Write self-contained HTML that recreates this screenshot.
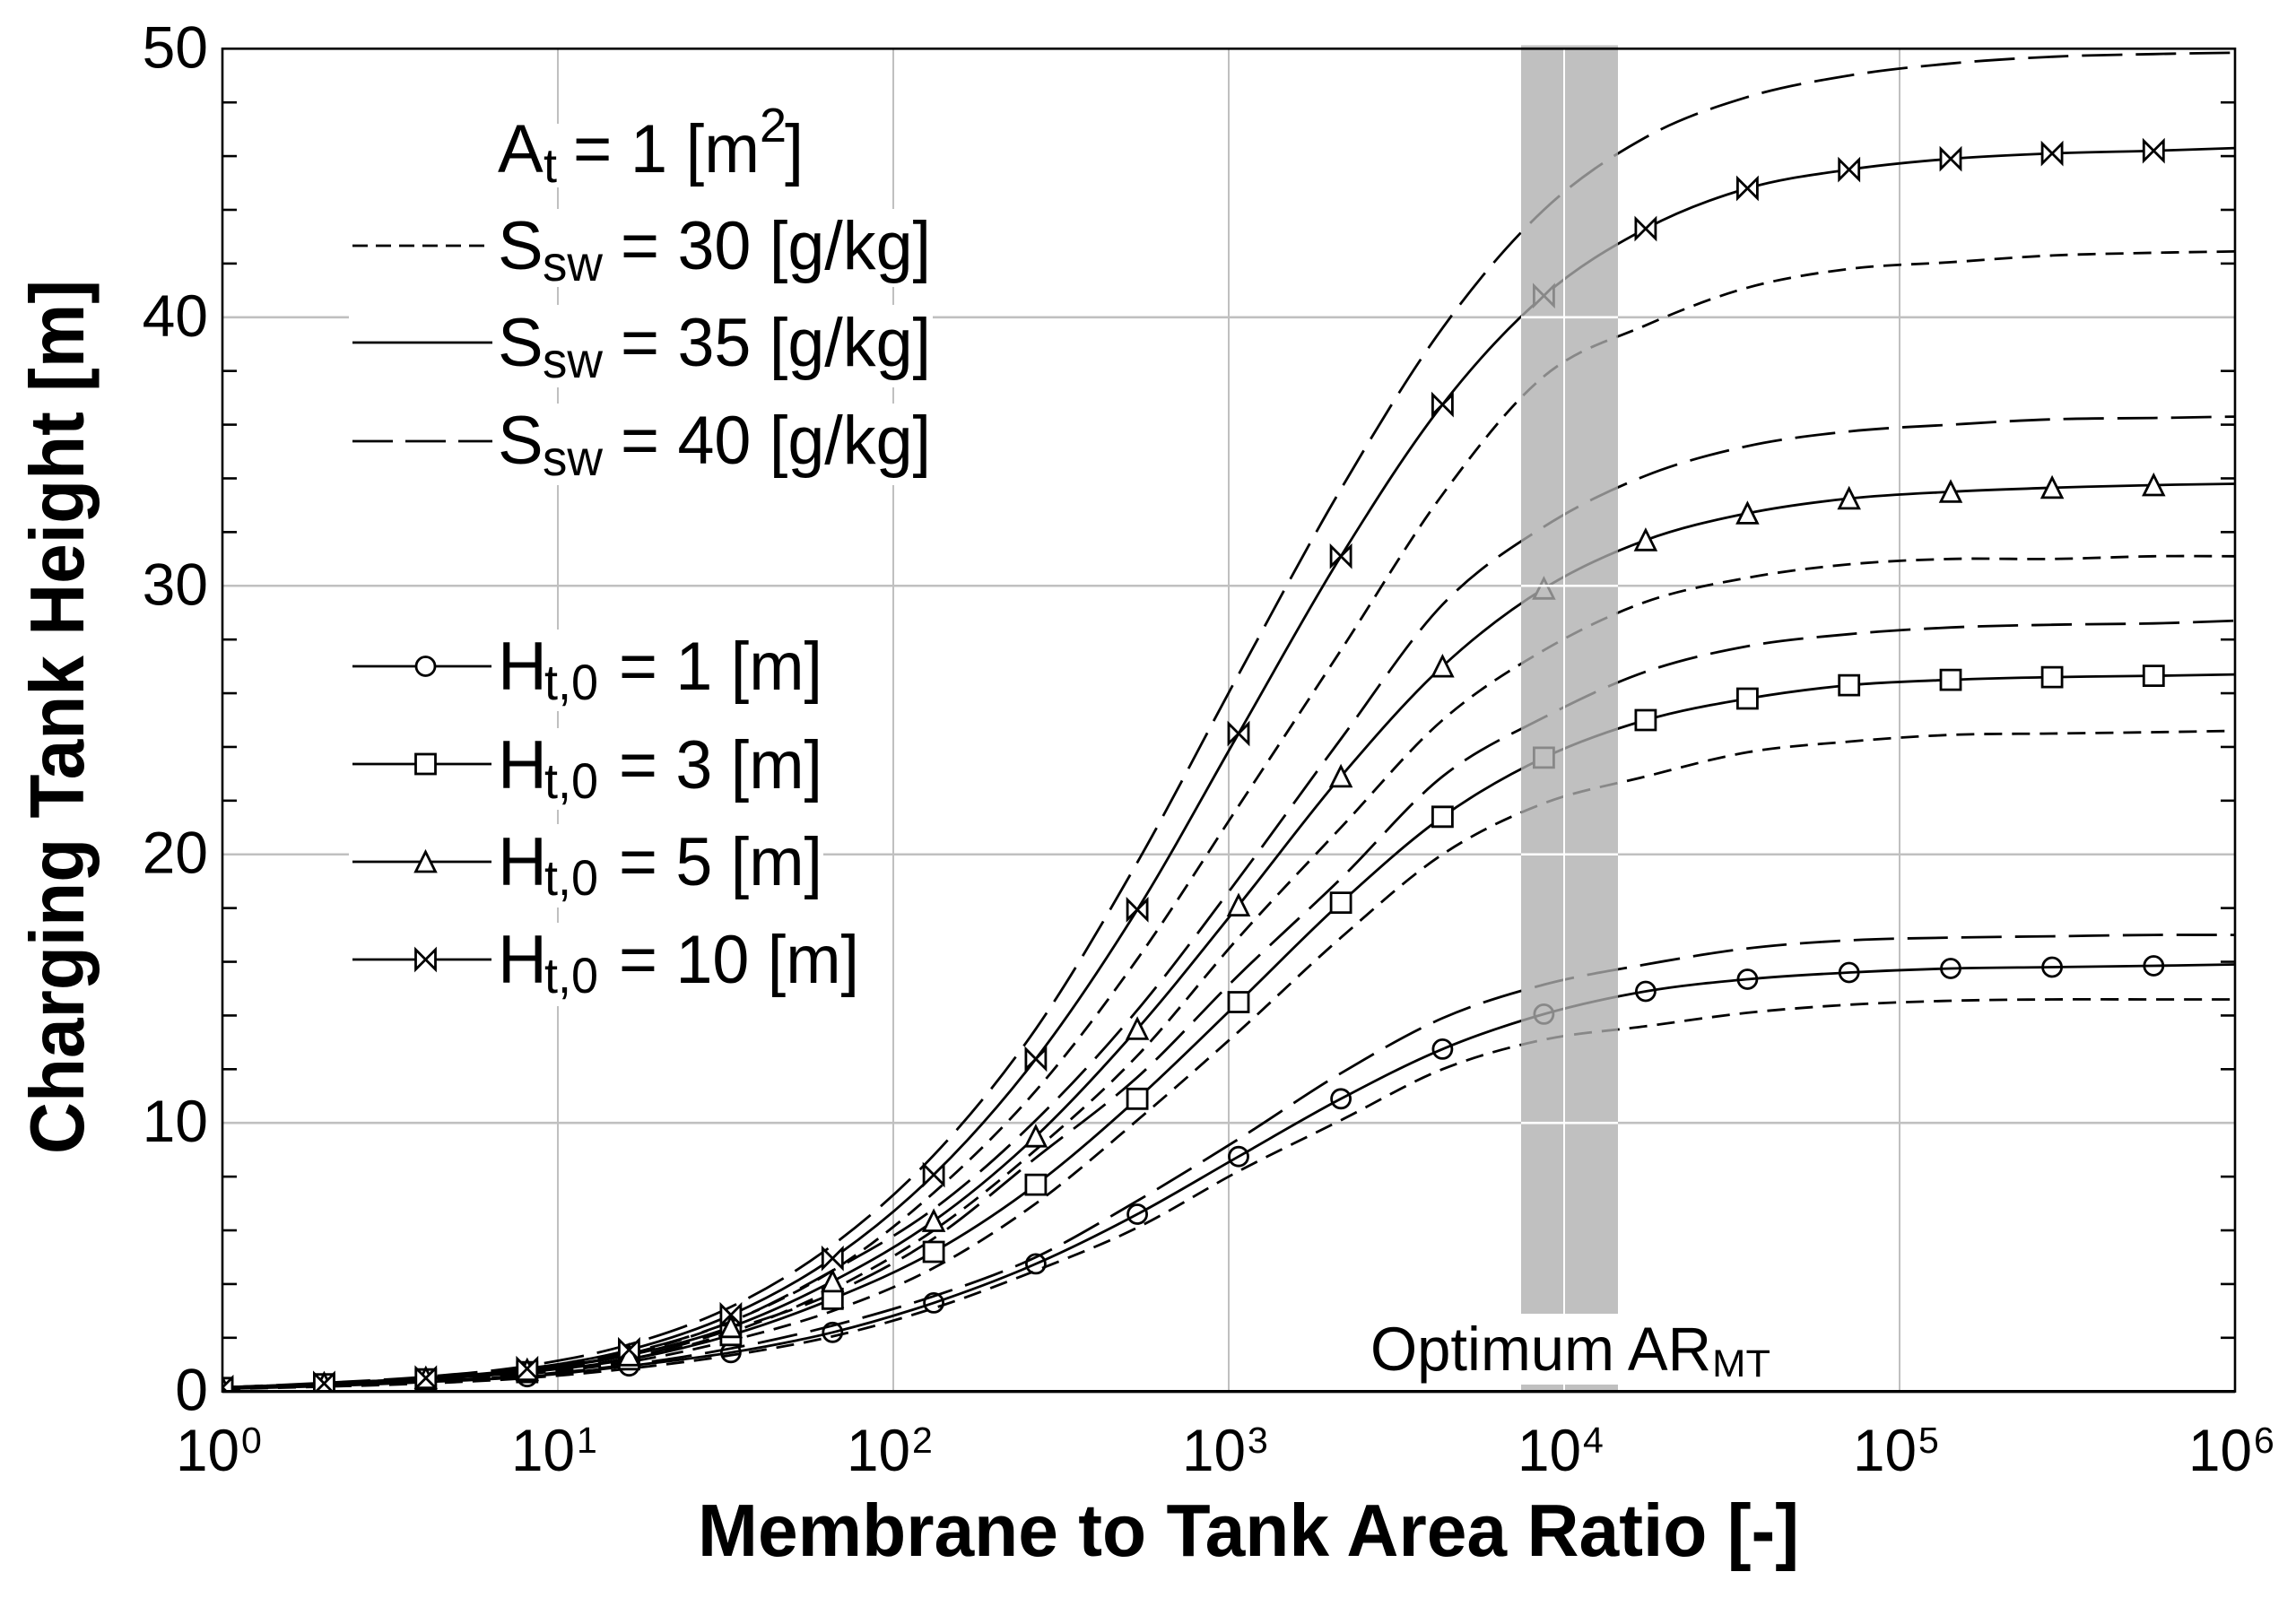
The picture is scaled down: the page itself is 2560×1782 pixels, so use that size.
<!DOCTYPE html>
<html lang="en">
<head>
<meta charset="utf-8">
<title>Charging Tank Height vs Membrane to Tank Area Ratio</title>
<style>
html,body{margin:0;padding:0;background:#fff;width:2560px;height:1782px;overflow:hidden}
svg{display:block}
text{font-family:"Liberation Sans",Arial,sans-serif;fill:#000}
.t{font-size:76px}
.s{font-size:56px}
</style>
</head>
<body>
<svg id="chart" xmlns="http://www.w3.org/2000/svg" width="2560" height="1782" viewBox="0 0 2560 1782">
  <defs><clipPath id="plot-clip"><rect x="248" y="54.3" width="2244" height="1497.4"/></clipPath></defs>
  <rect x="0" y="0" width="2560" height="1782" fill="#fff"/>
  <g id="grid"></g>
  <g id="curves" clip-path="url(#plot-clip)"></g>
  <rect id="band" x="1696" y="50.5" width="108" height="1501" fill="rgb(174,174,174)" fill-opacity="0.78"/>
  <g id="band-grid"></g>
  <g id="masks" fill="#fff">
    <rect x="548" y="138" width="352" height="71"/>
    <rect x="389" y="233" width="651" height="87"/>
    <rect x="389" y="340" width="651" height="92"/>
    <rect x="389" y="450" width="651" height="91"/>
    <rect x="389" y="702" width="529" height="91"/>
    <rect x="389" y="812" width="529" height="91"/>
    <rect x="389" y="919" width="529" height="93"/>
    <rect x="389" y="1029" width="566" height="93"/>
    <rect x="1525" y="1465" width="455" height="79"/>
  </g>
  <g id="frame"></g>
  <g id="tick-labels"></g>

  <text transform="translate(93,1287) rotate(-90)" font-size="85" font-weight="bold" textLength="975" lengthAdjust="spacingAndGlyphs">Charging Tank Height [m]</text>
  <text x="778" y="1735" font-size="83" font-weight="bold" textLength="1228" lengthAdjust="spacingAndGlyphs">Membrane to Tank Area Ratio [-]</text>

  <g>
    <text class="t" x="555" y="192">A</text>
    <text x="606" y="203" font-size="54">t</text>
    <text class="t" x="639" y="192" textLength="208" lengthAdjust="spacingAndGlyphs">= 1 [m</text>
    <text x="847" y="158" font-size="54">2</text>
    <text class="t" x="875" y="192">]</text>
  </g>

  <g stroke="#000" stroke-width="2.8" fill="none">
    <line x1="393" y1="274" x2="549" y2="274" stroke-dasharray="17,9"/>
    <line x1="393" y1="382" x2="549" y2="382"/>
    <line x1="393" y1="492" x2="549" y2="492" stroke-dasharray="45,14"/>
  </g>
  <g>
    <text class="t" x="555" y="300">S</text>
    <text class="s" x="605" y="313" textLength="67" lengthAdjust="spacingAndGlyphs">sw</text>
    <text class="t" x="692" y="300" textLength="346" lengthAdjust="spacingAndGlyphs">= 30 [g/kg]</text>
  </g>
  <g>
    <text class="t" x="555" y="408">S</text>
    <text class="s" x="605" y="421" textLength="67" lengthAdjust="spacingAndGlyphs">sw</text>
    <text class="t" x="692" y="408" textLength="346" lengthAdjust="spacingAndGlyphs">= 35 [g/kg]</text>
  </g>
  <g>
    <text class="t" x="555" y="517">S</text>
    <text class="s" x="605" y="530" textLength="67" lengthAdjust="spacingAndGlyphs">sw</text>
    <text class="t" x="692" y="517" textLength="346" lengthAdjust="spacingAndGlyphs">= 40 [g/kg]</text>
  </g>

  <g stroke="#000" stroke-width="2.8" fill="#fff">
    <line x1="393" y1="743" x2="548" y2="743"/>
    <circle cx="474.5" cy="743" r="10.5"/>
    <line x1="393" y1="852" x2="548" y2="852"/>
    <rect x="463.5" y="841" width="22" height="22"/>
    <line x1="393" y1="961" x2="548" y2="961"/>
    <path d="M474.5 950L485.5 972H463.5Z"/>
    <line x1="393" y1="1070" x2="548" y2="1070"/>
    <path d="M463.5 1059V1081L485.5 1059V1081Z"/>
  </g>
  <g>
    <text class="t" x="555" y="769">H</text>
    <text class="s" x="607" y="780" textLength="60" lengthAdjust="spacingAndGlyphs">t,0</text>
    <text class="t" x="690" y="769" textLength="227" lengthAdjust="spacingAndGlyphs">= 1 [m]</text>
  </g>
  <g>
    <text class="t" x="555" y="879">H</text>
    <text class="s" x="607" y="890" textLength="60" lengthAdjust="spacingAndGlyphs">t,0</text>
    <text class="t" x="690" y="879" textLength="227" lengthAdjust="spacingAndGlyphs">= 3 [m]</text>
  </g>
  <g>
    <text class="t" x="555" y="987">H</text>
    <text class="s" x="607" y="998" textLength="60" lengthAdjust="spacingAndGlyphs">t,0</text>
    <text class="t" x="690" y="987" textLength="227" lengthAdjust="spacingAndGlyphs">= 5 [m]</text>
  </g>
  <g>
    <text class="t" x="555" y="1096">H</text>
    <text class="s" x="607" y="1107" textLength="60" lengthAdjust="spacingAndGlyphs">t,0</text>
    <text class="t" x="690" y="1096" textLength="268" lengthAdjust="spacingAndGlyphs">= 10 [m]</text>
  </g>

  <g>
    <text x="1528" y="1528" font-size="69" textLength="380" lengthAdjust="spacingAndGlyphs">Optimum AR</text>
    <text x="1909" y="1535" font-size="43" textLength="65" lengthAdjust="spacingAndGlyphs">MT</text>
  </g>
</svg>
<script>
const areaRatio = [1, 2.01, 4.04, 8.1, 16.3, 32.8, 65.9, 132, 266, 534, 1070, 2160, 4340, 8700, 17500, 35200, 70700, 142000, 285000, 572000, 1000000];
const h1s30 = [0.09, 0.18, 0.3, 0.5, 0.85, 1.35, 2.05, 3.1, 4.5, 6.1, 8.2, 10.1, 12, 13.1, 13.6, 14.1, 14.4, 14.55, 14.6, 14.6, 14.6];
const h1s35 = [0.1, 0.2, 0.35, 0.55, 0.95, 1.45, 2.2, 3.3, 4.75, 6.6, 8.75, 10.9, 12.75, 14.05, 14.9, 15.35, 15.6, 15.75, 15.8, 15.85, 15.9];
const h1s40 = [0.1, 0.22, 0.37, 0.6, 1, 1.6, 2.45, 3.55, 5, 7.1, 9.4, 11.85, 13.9, 15.15, 15.9, 16.5, 16.8, 16.9, 16.95, 17, 17];
const h3s30 = [0.12, 0.25, 0.4, 0.65, 1.1, 1.9, 3, 4.6, 7, 10.1, 13.4, 16.9, 20, 21.9, 22.9, 23.8, 24.2, 24.45, 24.5, 24.55, 24.6];
const h3s35 = [0.13, 0.27, 0.45, 0.72, 1.2, 2.1, 3.45, 5.2, 7.7, 10.9, 14.5, 18.2, 21.4, 23.6, 25, 25.8, 26.3, 26.5, 26.6, 26.65, 26.7];
const h3s40 = [0.13, 0.27, 0.45, 0.75, 1.25, 2.3, 3.65, 5.7, 8.7, 11.7, 15.5, 19.1, 22.9, 25.1, 26.8, 27.75, 28.2, 28.45, 28.55, 28.6, 28.7];
const h5s30 = [0.13, 0.27, 0.45, 0.7, 1.2, 2.2, 3.8, 6, 9, 12.5, 16.9, 21, 25, 27.6, 29.4, 30.3, 30.8, 31, 31, 31.1, 31.1];
const h5s35 = [0.15, 0.3, 0.5, 0.8, 1.35, 2.4, 4.1, 6.35, 9.5, 13.5, 18.1, 22.9, 27, 29.9, 31.7, 32.7, 33.25, 33.5, 33.65, 33.75, 33.8];
const h5s40 = [0.15, 0.3, 0.5, 0.85, 1.45, 2.6, 4.5, 6.8, 10.1, 14.2, 19.1, 24.3, 29.3, 32.2, 34.1, 35.2, 35.75, 36, 36.2, 36.25, 36.3];
const h10s30 = [0.15, 0.3, 0.5, 0.8, 1.4, 2.6, 4.5, 7.4, 11.2, 16.1, 21.8, 27.6, 33.4, 37.8, 39.7, 41.1, 41.8, 42.05, 42.3, 42.4, 42.45];
const h10s35 = [0.15, 0.3, 0.5, 0.85, 1.55, 2.85, 4.96, 8.07, 12.38, 17.94, 24.5, 31.1, 36.75, 40.8, 43.3, 44.8, 45.5, 45.9, 46.1, 46.2, 46.3];
const h10s40 = [0.15, 0.32, 0.55, 0.95, 1.75, 3.15, 5.45, 8.8, 13.5, 19.7, 26.7, 33.6, 39.6, 44, 46.7, 48.2, 49, 49.45, 49.7, 49.8, 49.85];
const yTickLabels = [0, 10, 20, 30, 40, 50];
const yMinorTicks = [2, 4, 6, 8, 12, 14, 16, 18, 22, 24, 26, 28, 32, 34, 36, 38, 42, 44, 46, 48];
const xTickValues = [1, 10, 100, 1000, 10000, 100000, 1000000];
const xTickExponents = ["0", "1", "2", "3", "4", "5", "6"];

const NS = 'http://www.w3.org/2000/svg';
const plotLeft = 248, plotRight = 2492, plotTop = 54.3, plotBottom = 1551.7;
function xScale(v) { return plotLeft + Math.log10(v) * (plotRight - plotLeft) / 6; }
function yScale(v) { return plotBottom - v * (plotBottom - plotTop) / 50; }
function make(tag, parent) {
  const el = document.createElementNS(NS, tag);
  parent.appendChild(el);
  return el;
}
function smoothPath(xs, ys) {
  const pts = xs.map(function (x, i) { return [xScale(x), yScale(ys[i])]; });
  let d = 'M' + pts[0][0].toFixed(1) + ' ' + pts[0][1].toFixed(1);
  for (let i = 0; i < pts.length - 1; i++) {
    const p0 = pts[Math.max(i - 1, 0)], p1 = pts[i], p2 = pts[i + 1], p3 = pts[Math.min(i + 2, pts.length - 1)];
    const c1x = p1[0] + (p2[0] - p0[0]) / 6, c1y = p1[1] + (p2[1] - p0[1]) / 6;
    const c2x = p2[0] - (p3[0] - p1[0]) / 6, c2y = p2[1] - (p3[1] - p1[1]) / 6;
    d += 'C' + c1x.toFixed(1) + ' ' + c1y.toFixed(1) + ' ' + c2x.toFixed(1) + ' ' + c2y.toFixed(1) + ' ' + p2[0].toFixed(1) + ' ' + p2[1].toFixed(1);
  }
  return d;
}

/* grid */
const gridG = document.getElementById('grid');
const bandGridG = document.getElementById('band-grid');
xTickValues.slice(1, 6).forEach(function (v) {
  const ln = make('line', gridG);
  
  
  ln.setAttribute('x1', xScale(v));
  ln.setAttribute('x2', xScale(v));
  ln.setAttribute('y1', plotTop);
  ln.setAttribute('y2', plotBottom);
  ln.setAttribute('stroke', '#c0c0c0');
  ln.setAttribute('stroke-width', '2');
});
yTickLabels.slice(1, 5).forEach(function (v) {
  const ln = make('line', gridG);
  
  
  ln.setAttribute('x1', plotLeft);
  ln.setAttribute('x2', plotRight);
  ln.setAttribute('y1', yScale(v));
  ln.setAttribute('y2', yScale(v));
  ln.setAttribute('stroke', '#c0c0c0');
  ln.setAttribute('stroke-width', '2.6');
  const w = make('line', bandGridG);
  
  
  w.setAttribute('x1', 1696);
  w.setAttribute('x2', 1804);
  w.setAttribute('y1', yScale(v));
  w.setAttribute('y2', yScale(v));
  w.setAttribute('stroke', '#fff');
  w.setAttribute('stroke-width', '2.6');
});
const bandV = make('line', bandGridG);


bandV.setAttribute('x1', xScale(10000));
bandV.setAttribute('x2', xScale(10000));
bandV.setAttribute('y1', plotTop);
bandV.setAttribute('y2', plotBottom);
bandV.setAttribute('stroke', '#fff');
bandV.setAttribute('stroke-width', '2');

/* curves */
const curvesG = document.getElementById('curves');
function drawLine(name, ys, dash) {
  const p = make('path', curvesG);
  
  
  p.setAttribute('d', smoothPath(areaRatio, ys));
  p.setAttribute('fill', 'none');
  p.setAttribute('stroke', '#000');
  p.setAttribute('stroke-width', '2.8');
  if (dash) { p.setAttribute('stroke-dasharray', dash); }
}
const dash30 = '20,11';
const dash40 = '45,15';
drawLine('curve-h1-s30', h1s30, dash30);
drawLine('curve-h1-s40', h1s40, dash40);
drawLine('curve-h3-s30', h3s30, dash30);
drawLine('curve-h3-s40', h3s40, dash40);
drawLine('curve-h5-s30', h5s30, dash30);
drawLine('curve-h5-s40', h5s40, dash40);
drawLine('curve-h10-s30', h10s30, dash30);
drawLine('curve-h10-s40', h10s40, dash40);
drawLine('curve-h1-s35', h1s35, null);
drawLine('curve-h3-s35', h3s35, null);
drawLine('curve-h5-s35', h5s35, null);
drawLine('curve-h10-s35', h10s35, null);

function drawMarkers(name, ys, shape, fill) {
  ys.slice(0, 20).forEach(function (v, i) {
    const cx = xScale(areaRatio[i]), cy = yScale(v);
    const p = make('path', curvesG);
    
    
    p.setAttribute('transform', 'translate(' + cx.toFixed(1) + ',' + cy.toFixed(1) + ')');
    p.setAttribute('d', shape);
    p.setAttribute('fill', fill);
    p.setAttribute('stroke', '#000');
    p.setAttribute('stroke-width', '2.8');
  });
}
const circleShape = 'M-10.5 0A10.5 10.5 0 1 0 10.5 0A10.5 10.5 0 1 0 -10.5 0Z';
const squareShape = 'M-11 -11H11V11H-11Z';
const triangleShape = 'M0 -11L11 11H-11Z';
const bowtieShape = 'M-11 -11V11L11 -11V11Z';
drawMarkers('marker-h1', h1s35, circleShape, 'none');
drawMarkers('marker-h3', h3s35, squareShape, '#fff');
drawMarkers('marker-h5', h5s35, triangleShape, '#fff');
drawMarkers('marker-h10', h10s35, bowtieShape, '#fff');

/* frame and ticks */
const frameG = document.getElementById('frame');
const border = make('rect', frameG);


border.setAttribute('x', plotLeft);
border.setAttribute('y', plotTop);
border.setAttribute('width', plotRight - plotLeft);
border.setAttribute('height', plotBottom - plotTop);
border.setAttribute('fill', 'none');
border.setAttribute('stroke', '#000');
border.setAttribute('stroke-width', '2.6');
const axisBottom = make('line', frameG);


axisBottom.setAttribute('x1', plotLeft);
axisBottom.setAttribute('x2', plotRight);
axisBottom.setAttribute('y1', plotBottom);
axisBottom.setAttribute('y2', plotBottom);
axisBottom.setAttribute('stroke', '#000');
axisBottom.setAttribute('stroke-width', '3.4');
yMinorTicks.forEach(function (v) {
  const l = make('line', frameG);
  
  
  l.setAttribute('x1', plotLeft);
  l.setAttribute('x2', plotLeft + 16);
  l.setAttribute('y1', yScale(v));
  l.setAttribute('y2', yScale(v));
  l.setAttribute('stroke', '#000');
  l.setAttribute('stroke-width', '2.6');
  const r = make('line', frameG);
  
  
  r.setAttribute('x1', plotRight - 16);
  r.setAttribute('x2', plotRight);
  r.setAttribute('y1', yScale(v));
  r.setAttribute('y2', yScale(v));
  r.setAttribute('stroke', '#000');
  r.setAttribute('stroke-width', '2.6');
});

/* tick labels */
const labelsG = document.getElementById('tick-labels');
yTickLabels.forEach(function (v) {
  const t = make('text', labelsG);
  
  
  t.setAttribute('x', 232);
  t.setAttribute('y', yScale(v) + 21);
  t.setAttribute('text-anchor', 'end');
  t.setAttribute('font-size', '66');
  t.textContent = String(v);
});
xTickValues.forEach(function (v, i) {
  const base = make('text', labelsG);
  
  
  base.setAttribute('x', xScale(v) - 52);
  base.setAttribute('y', 1640);
  base.setAttribute('font-size', '66');
  base.setAttribute('textLength', '71');
  base.setAttribute('lengthAdjust', 'spacingAndGlyphs');
  base.textContent = '10';
  const sup = make('text', labelsG);
  
  
  sup.setAttribute('x', xScale(v) + 21);
  sup.setAttribute('y', 1620);
  sup.setAttribute('font-size', '41');
  sup.textContent = xTickExponents[i];
});
</script>
</body>
</html>
